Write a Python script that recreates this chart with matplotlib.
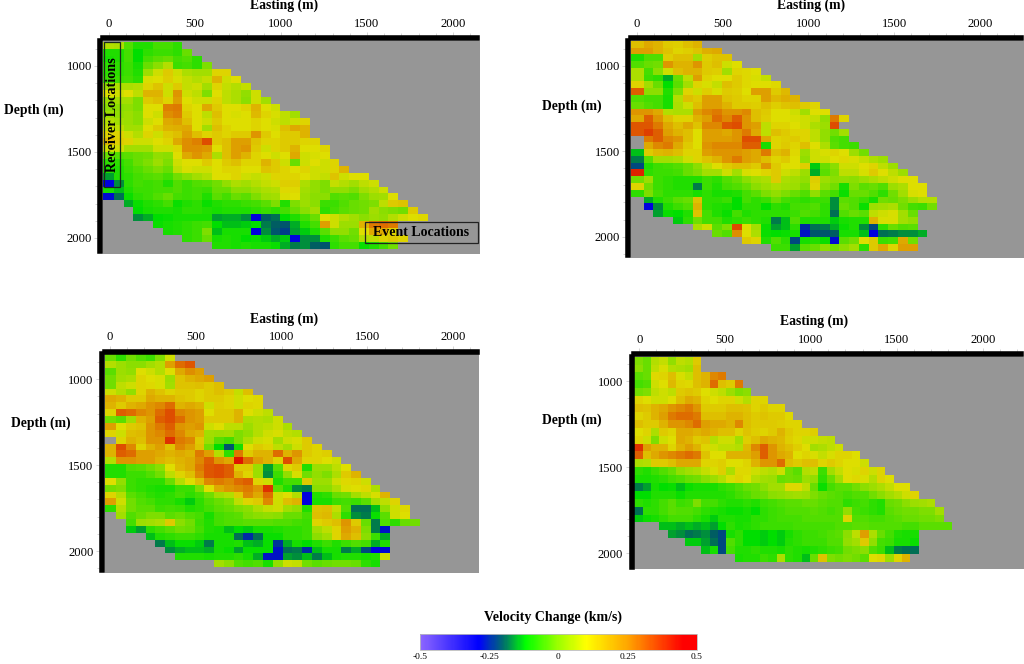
import numpy as np
import matplotlib
matplotlib.use('Agg')
import matplotlib.pyplot as plt
from matplotlib.colors import LinearSegmentedColormap, Normalize
from matplotlib.cm import ScalarMappable
from matplotlib.patches import Rectangle
from matplotlib.ticker import MultipleLocator

plt.rcParams['font.family'] = ['Liberation Serif']

_ = np.nan

# velocity change, in hundredths of km/s, top row first
p1_rows = [
    [5,4,-5,-9,-9,-6,-6,-8],
    [-9,-9,-6,-12,-8,-7,-7,-8,-3],
    [-10,-9,-6,-12,-6,-4,-3,-6,-5,-8],
    [-8,-8,-7,-10,-3,0,5,-7,-6,-8,-1],
    [-8,-8,-7,-9,2,8,14,8,4,3,3,12,12],
    [-7,-7,-6,-8,9,10,13,9,7,5,7,18,8,10],
    [2,4,4,5,12,15,8,14,7,8,3,12,7,5,7],
    [10,8,10,6,18,18,8,24,8,6,-1,10,6,4,1,8],
    [2,3,3,-1,14,16,12,22,10,8,8,12,6,4,0,8,3],
    [0,0,1,-1,10,10,27,28,12,10,20,14,10,10,12,18,10,8],
    [2,1,2,0,10,8,25,27,14,10,6,16,10,9,10,17,12,9,6,3],
    [5,3,2,0,8,10,20,22,16,10,8,14,10,10,10,12,10,8,6,8,12],
    [7,6,3,3,10,14,18,19,20,10,3,16,12,10,10,12,10,9,16,20,18],
    [12,12,8,5,12,8,14,16,22,16,12,14,12,14,14,24,14,10,14,14,18],
    [17,13,12,8,8,10,12,20,25,27,34,14,16,22,22,15,12,12,14,14,12,12],
    [8,8,3,3,3,8,8,12,25,25,24,10,16,22,24,14,8,12,14,18,10,10,12],
    [-3,-5,-4,-3,-2,1,0,10,20,24,20,4,16,22,18,12,10,8,10,20,8,9,10],
    [-8,-8,-6,-3,-1,2,-1,8,10,10,14,10,14,16,12,12,18,14,8,-3,8,10,8,12],
    [-9,-9,-7,-5,-3,-1,-3,6,9,8,8,10,12,12,10,10,15,14,12,10,12,8,8,12,18],
    [-16,-9,-8,-6,-5,-4,-6,-2,0,3,5,10,10,12,8,7,8,12,12,12,10,8,7,15,8,10,10],
    [-29,-17,-8,-6,-7,-6,-9,-5,-7,-5,-4,-2,1,4,3,5,7,8,13,13,4,1,-1,7,5,3,6,8],
    [-10,-14,-9,-7,-7,-6,-6,-5,-7,-6,-7,-3,-3,0,0,2,4,5,11,11,3,1,-1,1,1,-1,3,5,8],
    [-28,-19,-11,-8,-7,-5,-3,-6,-7,-6,-9,-4,-6,-3,-4,-1,2,3,9,10,2,0,0,-5,-4,-5,-1,2,3,10],
    [_,_,-15,-11,-9,-8,-6,-11,-9,-8,-11,-9,-8,-8,-7,-6,-4,-1,-9,-1,2,0,-7,-7,-5,-3,-2,-1,6,14,15],
    [_,_,_,-12,-10,-9,-9,-10,-8,-8,-9,-10,-9,-9,-9,-8,-7,-8,-6,-3,0,3,-8,-6,-4,-3,-2,3,0,-1,-2,14],
    [_,_,_,-17,-15,-12,-11,-10,-10,-10,-10,-16,-15,-15,-17,-29,-20,-19,-12,-9,-6,-3,10,8,5,3,0,2,1,5,8,10,11],
    [_,_,_,_,_,-11,-10,-9,-8,-7,-6,-12,-14,-14,-13,-12,-18,-20,-21,-15,-9,-6,22,8,2,2,18,28,30,28],
    [_,_,_,_,_,_,-10,-9,-8,-7,-1,-14,-10,-10,-10,-29,-17,-21,-23,-16,-13,-9,-4,1,1,-2,10,20,20,12],
    [_,_,_,_,_,_,_,_,-8,-7,-3,-10,-9,-10,-12,-11,-13,-15,-13,-29,-17,-17,-9,-7,-4,-3,5,6,12,14,12],
    [_,_,_,_,_,_,_,_,_,_,_,-9,-9,-10,-9,-10,-10,-11,-15,-18,-17,-20,-21,-8,-6,-6,-11,-9,-6,-2],
]

p2_rows = [
    [16,20,18,14,13,16,18],
    [22,22,18,15,12,13,15,19,20],
    [-9,-5,-5,13,16,16,3,13,15,15],
    [-5,-3,-2,24,18,18,24,14,16,8,10],
    [4,-6,0,8,16,18,18,14,13,3,12,11,10],
    [4,-7,-8,-15,-3,6,22,12,10,10,14,11,9,7],
    [12,3,-3,-12,-4,3,12,9,7,16,14,11,10,10,11],
    [32,0,0,-9,-1,12,8,13,9,14,13,10,22,22,14,17],
    [-5,-6,-6,-10,5,16,14,22,22,15,14,12,12,22,17,19,18],
    [-3,-5,-6,-10,4,8,16,22,22,18,14,14,13,16,13,15,16,14,12],
    [24,24,20,5,4,4,22,26,28,24,24,26,16,14,10,10,8,3,10,10],
    [20,32,24,16,12,12,18,22,30,26,32,24,16,13,10,10,9,8,7,1,28,12],
    [33,33,28,20,16,20,15,26,26,33,34,24,22,6,12,12,10,8,4,2,34],
    [33,36,32,22,18,16,10,22,22,20,24,28,20,6,16,14,12,12,6,1,-2,3],
    [_,28,32,26,24,16,10,22,22,22,24,34,34,20,12,13,14,12,6,1,-5,-6],
    [_,20,26,28,20,14,10,24,26,26,26,32,32,-10,12,14,12,16,10,4,-4,-6,-7],
    [-14,14,17,18,16,12,12,22,24,24,24,22,20,28,16,18,11,2,8,9,12,10,2,-2],
    [-18,-4,3,3,4,8,12,15,18,24,28,22,20,16,12,14,10,1,8,8,10,11,9,7,4,2],
    [-22,-9,-7,-6,-5,-3,0,6,10,14,16,16,14,24,14,10,10,13,-13,-3,0,8,8,10,12,6,2],
    [40,-8,-7,-7,-6,-3,-1,3,3,8,3,9,10,12,14,8,6,2,-15,-4,-1,6,6,9,14,10,6,2],
    [-2,2,-7,-8,-9,-9,-9,-7,-8,-5,-3,0,3,4,14,4,3,1,13,2,0,1,0,2,4,6,8,10,10],
    [12,-2,-7,-8,-9,-9,-18,-7,-9,-6,-5,-3,0,2,4,3,2,-1,12,0,-2,-10,-1,-4,-3,-5,2,4,10,10],
    [-8,-1,-6,-8,-8,-8,-10,-8,-10,-10,-9,-6,-4,-1,1,-1,-3,-5,1,-4,-6,-11,-3,-3,-5,-8,-2,3,9,10],
    [_,-15,-9,-7,-4,-3,15,-8,-8,-7,-12,-6,-8,-7,-3,-6,-7,-8,-7,-7,-17,-4,-5,-7,-10,-2,-3,-1,2,5,5],
    [_,-29,-17,-9,-7,-5,18,-8,-9,-10,-12,-8,-8,-12,-8,-9,-6,-6,-5,-8,-17,-3,-5,-11,2,3,4,-2,-6,-7,-2],
    [_,_,-16,-11,-12,-9,15,-6,-9,-11,-6,-9,-8,-8,-8,-8,-7,-5,-6,-8,-19,-5,-3,-4,6,8,9,3,-3],
    [_,_,_,_,-13,-8,-2,-6,-6,-9,-8,-7,-8,-9,-18,-14,-5,-9,-9,-9,-13,-10,-9,-9,18,9,9,3,1],
    [_,_,_,_,_,_,4,8,-4,-1,35,10,3,-11,-16,-14,-8,-25,-19,-18,-15,-11,-9,-17,-22,-8,-3,-5,-4],
    [_,_,_,_,_,_,_,_,-3,-5,25,10,4,-11,-12,-11,-10,-27,-21,-21,-20,-10,-10,-14,-29,-19,-18,-17,-17,-15],
    [_,_,_,_,_,_,_,_,_,_,_,14,12,-9,-5,-8,-22,-10,-9,-11,-28,-4,-2,10,14,-7,-6,20,-2],
    [_,_,_,_,_,_,_,_,_,_,_,_,_,_,-7,-7,-16,-4,-3,0,-2,0,3,-8,14,20,12,22,22],
]

p3_rows = [
    [-3,-8,-2,-5,-7,-1,8],
    [5,2,0,0,3,5,22,30,33],
    [-4,2,1,10,8,5,10,20,25,22],
    [-2,3,4,12,10,9,2,15,18,20,22],
    [-2,6,8,12,11,9,3,15,15,16,14,16],
    [8,5,1,12,18,15,12,14,14,12,14,16,14,7,16],
    [20,18,14,14,20,18,18,15,14,12,14,14,12,8,10,11],
    [18,14,18,20,24,26,30,18,20,18,8,13,12,8,12,11],
    [12,32,30,26,24,30,34,26,24,22,10,14,14,18,10,8,6],
    [-2,-4,3,18,22,32,34,30,24,22,14,14,14,18,4,5,4,8],
    [22,10,14,15,24,28,32,24,22,24,8,10,6,6,2,5,6,8,4],
    [12,8,16,17,24,26,30,26,20,18,3,2,3,-1,1,5,8,9,6,5],
    [_,12,18,16,24,24,38,28,26,14,2,-4,-6,-1,4,8,9,3,8,9,14],
    [18,34,26,12,18,22,15,26,22,15,-2,-12,-21,-10,10,14,12,6,3,8,14,12],
    [18,32,30,22,22,20,18,20,18,28,22,5,-8,28,14,18,18,30,18,24,14,12,13],
    [5,24,24,22,22,18,16,18,20,26,32,24,20,42,30,22,18,12,34,20,12,12,10,8],
    [-9,-9,-5,-4,-2,0,10,17,20,28,33,34,32,14,14,2,-16,-4,11,14,-9,2,2,6,10],
    [-9,-9,-7,-7,-5,-2,6,12,16,26,33,34,32,18,12,2,-17,-7,1,9,-2,1,-1,4,14,18],
    [10,1,-7,-8,-8,-8,-3,5,10,16,26,28,26,30,32,12,8,-9,-6,-6,14,2,2,8,11,12,8],
    [-2,-1,-7,-8,-9,-10,-10,-7,-7,-1,10,20,24,26,28,24,38,-4,-9,-17,-18,0,0,4,9,10,11,4],
    [12,5,-4,-6,-8,-9,-8,-6,-8,-6,-2,3,5,14,26,20,30,8,10,5,-29,-9,-8,-3,-2,3,6,9,18],
    [22,8,-2,-5,-6,-8,-8,-10,-13,-8,-5,-3,-1,6,12,14,26,8,16,18,-29,-10,-10,-7,-6,-7,-4,3,6,12],
    [-8,5,-2,-4,-4,-7,-6,-7,-9,-8,-6,-4,-3,-1,0,4,7,8,3,1,-9,15,16,7,-5,-19,-19,-14,1,8,11],
    [_,3,-5,-3,-1,-1,-4,-3,-5,-6,-10,-6,-5,-4,-1,0,1,0,-3,-3,-6,16,17,4,-8,-17,-18,-11,-4,8,10],
    [_,_,-6,2,3,4,14,0,-2,-7,-9,-6,-5,-5,-4,-4,-4,-5,-5,-6,-7,12,14,16,24,14,-3,-18,-5,-8,-3,-2],
    [_,_,-13,-16,-8,-6,-4,-2,-3,-6,-9,-10,-14,-12,-13,-10,-10,-9,-8,-8,-7,3,6,12,22,18,-1,-18,-27],
    [_,_,_,_,-14,-9,-8,-7,-7,-8,-10,-10,-10,-19,-25,-19,-11,-11,-8,-8,-7,0,3,12,20,16,0,-7,-15],
    [_,_,_,_,_,-18,-14,-11,-11,-13,-18,-10,-10,-9,-14,-15,-11,-24,-15,-10,-12,-9,-7,-9,-7,-5,-6,-15,-9],
    [_,_,_,_,_,_,-17,-15,-14,-14,-15,-10,-11,-16,-11,-11,-11,-27,-19,-18,-25,-14,-10,-10,-18,-15,-22,-29,-28],
    [_,_,_,_,_,_,_,-9,-9,-9,-10,-9,-9,-8,-10,-15,-27,-27,-16,-17,-14,-18,-14,-10,-9,-9,-10,-9,8],
    [_,_,_,_,_,_,_,_,_,_,_,3,0,-5,-6,-5,-10,1,8,7,-2,-4,-3,-2,-2,-3,-8,-10],
]

p4_rows = [
    [-1,-3,5,7,1,6,5,14],
    [0,-3,6,9,5,4,3,16],
    [-4,-3,11,12,16,9,7,16,18,26,28],
    [-6,-5,8,10,17,12,11,16,18,30,16,14,28],
    [-2,-1,6,8,6,14,15,14,10,8,6,2,-1,0],
    [12,10,8,8,10,16,20,18,12,10,12,12,8,5,12,12],
    [16,15,18,20,24,26,28,24,14,14,14,16,16,15,12,14,12,12],
    [12,14,18,22,28,30,30,28,16,16,16,18,18,16,14,15,14,14,11],
    [16,14,14,18,24,24,26,30,22,20,20,18,26,16,14,14,14,13,12,12],
    [10,12,4,14,12,20,20,18,20,18,16,16,12,15,13,12,14,18,14,12,12,13],
    [12,8,-1,8,10,20,18,14,15,5,8,8,3,13,16,20,18,17,13,11,8,8,7,6],
    [38,22,18,18,12,18,22,18,12,8,6,6,5,17,26,32,24,18,16,13,10,3,4,6,8],
    [32,16,20,24,26,28,30,28,15,10,10,18,18,18,22,32,24,20,18,10,12,9,7,9,12,12,10],
    [4,5,14,14,16,20,20,20,12,12,13,10,10,12,18,24,24,30,16,14,16,16,12,14,12,10,10,8],
    [-8,-9,-7,-5,-3,1,3,4,7,9,13,4,11,11,8,6,5,8,-2,-4,5,6,-7,3,7,10,9,12,8,12],
    [-10,-10,-9,-8,-6,-5,-3,-2,0,2,5,9,12,10,5,3,2,-3,-2,-3,2,1,-8,-3,3,10,11,9,5,12,10],
    [-18,-16,-10,-12,-11,-14,-11,-10,-10,-10,-8,-7,-5,-3,-2,0,3,3,11,11,6,-3,-11,-6,-4,-4,-2,0,2,4,7,10,10],
    [-12,-12,-9,-9,-9,-11,-9,-9,-9,-9,-9,-8,-6,-5,-3,-2,0,1,2,3,2,-1,-3,-4,-5,-6,-5,-5,-2,0,3,5,8,12],
    [-8,-9,-8,-6,-4,-7,-6,-1,-6,-6,-8,-9,-9,-8,-9,-7,-6,-5,-4,-4,-3,-3,-4,-5,-5,-8,-7,-6,-8,-9,-3,-2,0,2,3,4],
    [-19,-8,-8,-6,-4,-5,-5,-6,-8,-9,-10,-11,-11,-10,-12,-8,-7,-6,-5,-5,-5,-4,-5,-6,-5,1,-6,-7,-8,-9,-4,-3,-2,-2,-1,-1,3],
    [-13,-11,-10,-8,-6,-6,-6,-8,-10,-13,-9,-9,-10,-10,-8,-8,-7,-6,-6,-6,-5,-5,-5,-5,-5,12,-5,-5,-6,-6,-5,-4,-3,-3,-2,-2,-1],
    [_,_,_,-14,-14,-15,-14,-15,-14,-16,-12,-8,-10,-9,-8,-7,-7,-7,-7,-6,-6,-6,-6,-6,-5,-5,-4,-4,-5,-5,-5,-5,-6,-6,-4,-4,-4,-4],
    [_,_,_,_,-16,-17,-19,-18,-17,-20,-22,-10,-8,-12,-12,-13,-12,-13,-10,-8,-7,-7,-6,-5,-4,0,6,22,4,-3,-6,-9,-10,-10],
    [_,_,_,_,_,_,-13,-13,-16,-19,-22,-5,-8,-12,-12,-13,-12,-13,-9,-8,-7,-7,-7,-5,-5,1,3,14,1,-6,-7,-10,-10,-11],
    [_,_,_,_,_,_,_,_,-14,-10,-22,-6,-9,-9,-8,-9,-9,-10,-8,-9,-10,-9,-8,-7,-6,-2,-1,0,-5,-7,-14,-18,-19,-19],
    [_,_,_,_,_,_,_,_,_,_,_,_,-10,-9,-9,-7,-8,4,-8,-9,-14,-3,15,-1,-2,-1,-2,-4,10,11,2,12,18],
]

cmap_stops = [
    (-0.5, (0.55, 0.40, 1.0)), (-0.29, (0, 0, 1)), (-0.20, (0, 0.43, 0.43)),
    (-0.12, (0, 1, 0)), (0.0, (0.62, 1, 0)), (0.10, (1, 1, 0)),
    (0.25, (1, 0.65, 0)), (0.45, (1, 0, 0)), (0.5, (1, 0, 0)),
]
stop_pos = [(v + 0.5) for v, c in cmap_stops]
bar_cmap = LinearSegmentedColormap.from_list('vel', list(zip(stop_pos, [c for v, c in cmap_stops])))
# the panels come out a little darker than the colour bar
panel_cmap = LinearSegmentedColormap.from_list(
    'vel_panel', list(zip(stop_pos, [tuple(0.87 * np.array(c)) for v, c in cmap_stops])))
panel_cmap.set_bad('#969696')
norm = Normalize(-0.5, 0.5)

W, H = 1024, 664
fig = plt.figure(figsize=(W / 100, H / 100), dpi=100, facecolor='white')


def to_grid(rows):
    ncol = max(len(r) for r in rows)
    return np.array([list(r) + [np.nan] * (ncol - len(r)) for r in rows], dtype=float) / 100


def panel(rows, box, x_px, y_px, x1, dx, y0, dy):
    # box is left, right, top, bottom in pixels, x_px / y_px are where 0, 2000 and 1000, 2000 sit
    left, right, top, bottom = box
    ax = fig.add_axes([left / W, 1 - bottom / H, (right - left) / W, (bottom - top) / H])
    sx = (x_px[1] - x_px[0]) / 2000
    sy = (y_px[1] - y_px[0]) / 1000
    xlim = ((left - x_px[0]) / sx, (right - x_px[0]) / sx)
    ylim = (1000 + (bottom - y_px[0]) / sy, 1000 + (top - y_px[0]) / sy)
    grid = to_grid(rows)
    xe = x1 + dx * np.arange(-1, grid.shape[1])
    xe[0] = xlim[0]
    ye = y0 + dy * np.arange(grid.shape[0] + 1)
    ax.pcolormesh(xe, ye, np.ma.masked_invalid(grid), cmap=panel_cmap, norm=norm)
    ax.set_facecolor('#969696')
    ax.set_xlim(xlim)
    ax.set_ylim(ylim)
    ax.set_axisbelow(True)
    ax.xaxis.tick_top()
    ax.xaxis.set_major_locator(MultipleLocator(500))
    ax.xaxis.set_minor_locator(MultipleLocator(100))
    ax.yaxis.set_major_locator(MultipleLocator(500))
    ax.yaxis.set_minor_locator(MultipleLocator(100))
    ax.set_yticks([1000, 1500, 2000])
    ax.tick_params(which='both', length=4.5, width=0.5, color='#c4c4c4', labelsize=9.1, pad=1.5)
    ax.tick_params(which='minor', top=True, left=True, length=3.5)
    for s in ['right', 'bottom']:
        ax.spines[s].set_visible(False)
    for s in ['top', 'left']:
        ax.spines[s].set_linewidth(4)
        ax.spines[s].set_position(('outward', 2))
    # stop the bars at the panel edge, their caps stick out otherwise
    ax.spines['top'].set_bounds(xlim[0], xlim[1] - 2.8 / sx)
    ax.spines['left'].set_bounds(ylim[0] - 2.8 / sy, ylim[1])
    return ax


panel(p1_rows, (103, 480, 41, 254), (109, 453), (66, 238), 28, 57, 859, 40.1)
panel(p2_rows, (631, 1024, 40.7, 258.3), (636.7, 980), (65.7, 236.7), 40.6, 57, 854.5, 39.6)
panel(p3_rows, (104.7, 479.3, 354.3, 573), (110, 453.3), (379.3, 551), 36.6, 57, 854, 40)
panel(p4_rows, (634.3, 1024, 356.7, 569.3), (639.3, 982.7), (381, 553), 20, 48.7, 858.5, 45.9)


def label(x, y, s, size=9.8, **kw):
    fig.text(x / W, 1 - y / H, s, ha='center', va='center', fontweight='bold', fontsize=size, **kw)


for x, y in [(284, 5), (811, 5), (284, 319), (814, 321)]:
    label(x, y, 'Easting (m)')
for x, y in [(34, 110), (572, 106), (41, 423), (572, 420)]:
    label(x, y, 'Depth (m)')

fig.add_artist(Rectangle((103.5 / W, 1 - 186.5 / H), 16 / W, 145 / H, transform=fig.transFigure,
                         fill=False, edgecolor='#1c2a1c', linewidth=0.9))
label(113, 115, 'Receiver Locations', size=10.2, rotation=90)
fig.add_artist(Rectangle((365 / W, 1 - 243 / H), 112.5 / W, 21 / H, transform=fig.transFigure,
                         fill=False, edgecolor='#222222', linewidth=0.9))
label(421, 233, 'Event Locations', size=10)

label(553, 617, 'Velocity Change (km/s)', size=10)
cax = fig.add_axes([420 / W, 1 - 650 / H, 277 / W, 16 / H])
cb = fig.colorbar(ScalarMappable(norm=norm, cmap=bar_cmap), cax=cax, orientation='horizontal')
cb.set_ticks([-0.5, -0.25, 0, 0.25, 0.5], labels=['-0.5', '-0.25', '0', '0.25', '0.5'])
cb.ax.tick_params(length=0, labelsize=6.8, pad=2)
cb.outline.set_edgecolor('#bbbbbb')
cb.outline.set_linewidth(0.6)

fig.savefig('out.png', dpi=100)
